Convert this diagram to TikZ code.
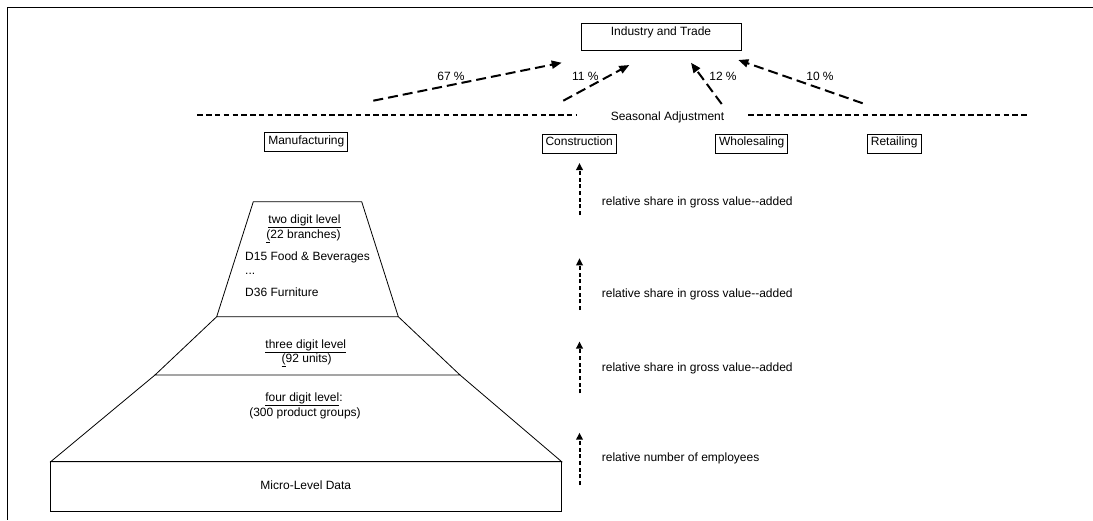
\documentclass[tikz,border=0pt]{standalone}
\usepackage{fontspec}
\setmainfont{Liberation Sans}
\usetikzlibrary{arrows.meta}

\begin{document}
\begin{tikzpicture}[x=1pt,y=-1pt,
    font=\fontsize{12}{14}\selectfont,
    txt/.style={inner sep=0pt,text height=8.6pt,text depth=0pt},
    sector/.style={draw,line width=0.8pt,inner xsep=3.5pt,inner ysep=3pt,text height=8.6pt,text depth=4.4pt},
    share/.style={dash pattern=on 10pt off 5pt,line width=2pt,-{Triangle[length=10pt,width=8pt]}},
    level/.style={dash pattern=on 4pt off 2.7pt,line width=2pt,-{Triangle[length=7pt,width=6.5pt]}},
    seam/.style={dash pattern=on 5.5pt off 3.3pt,line width=1.7pt}]
    \useasboundingbox (0,0) rectangle (1093,520);
    \draw[line width=1.2pt] (1093,7.5) -- (7.5,7.5) -- (7.5,520);

    \node[draw,line width=0.8pt,minimum width=160pt,inner ysep=3.7pt,text height=8.5pt,text depth=11.1pt] (it) at (661,36.5) {Industry and Trade};

    \node[sector] (man) at (306.3,142.2) {Manufacturing};
    \node[sector] (con) at (579.2,143.8) {Construction};
    \node[sector] (who) at (751.7,143.5) {Wholesaling};
    \node[sector] (ret) at (894.2,143.5) {Retailing};

    \node[txt] (sa) at (667.5,115.9) {Seasonal Adjustment};
    \draw[seam] (197.3,115) -- (576.7,115);
    \draw[seam] (748.3,115) -- (1026.7,115);

    \coordinate (m0) at (373.3,100.7);
    \coordinate (m1) at (561.7,62.7);
    \coordinate (c0) at (563.3,100.7);
    \coordinate (c1) at (629.3,65);
    \coordinate (w0) at (721.7,104);
    \coordinate (w1) at (691,62.7);
    \coordinate (r0) at (862.7,103.3);
    \coordinate (r1) at (738.3,60);
    \draw[share] (m0) -- (m1);
    \draw[share] (c0) -- (c1);
    \draw[share] (w0) -- (w1);
    \draw[share] (r0) -- (r1);
    \node[txt] (p67) at (451,76) {67 \%};
    \node[txt] (p11) at (585.3,76) {11 \%};
    \node[txt] (p12) at (723,76) {12 \%};
    \node[txt] (p10) at (820,76) {10 \%};

    \coordinate (v1a) at (579.5,215);
    \coordinate (v1b) at (579.5,163);
    \coordinate (v2a) at (579.5,310);
    \coordinate (v2b) at (579.5,258.3);
    \coordinate (v3a) at (579.5,393.3);
    \coordinate (v3b) at (579.5,341.5);
    \coordinate (v4a) at (579.5,485);
    \coordinate (v4b) at (579.5,432.7);
    \draw[level] (v1a) -- (v1b);
    \draw[level] (v2a) -- (v2b);
    \draw[level] (v3a) -- (v3b);
    \draw[level] (v4a) -- (v4b);
    \node[txt,anchor=west] (l1) at (601.7,201) {relative share in gross value-{}-added};
    \node[txt,anchor=west] (l2) at (601.7,293.3) {relative share in gross value-{}-added};
    \node[txt,anchor=west] (l3) at (601.7,366.7) {relative share in gross value-{}-added};
    \node[txt,anchor=west] (l4) at (601.7,457.3) {relative number of employees};

    \draw[line width=0.8pt] (253.3,201.7) -- (361.7,201.7) -- (398.3,316.7) -- (216.7,316.7) -- cycle;
    \draw[line width=0.8pt] (216.7,316.7) -- (155,375) -- (460,375) -- (398.3,316.7);
    \draw[line width=0.8pt] (155,375) -- (50.7,461.7) -- (561.7,461.7) -- (460,375);
    \draw[line width=0.8pt] (50.7,461.7) rectangle (561.7,511);

    \node[txt] (two) at (304.5,219.5) {\underline{two digit level}};
    \node[txt] (twob) at (303.5,234) {\underline{(}22 branches)};
    \node[txt,anchor=west] (d15) at (245,256.5) {D15 Food \& Beverages};
    \node[txt,anchor=west] (dots) at (245,270) {...};
    \node[txt,anchor=west] (d36) at (245,292.3) {D36 Furniture};
    \node[txt] (three) at (305.8,343.8) {\underline{three digit level}};
    \node[txt] (threeb) at (306.7,358) {\underline{(}92 units)};
    \node[txt] (four) at (304,397) {\underline{four digit level}:};
    \node[txt] (fourb) at (305,412.5) {(300 product groups)};
    \node[txt] (micro) at (305.8,484.7) {Micro-Level Data};
\end{tikzpicture}
\end{document}
